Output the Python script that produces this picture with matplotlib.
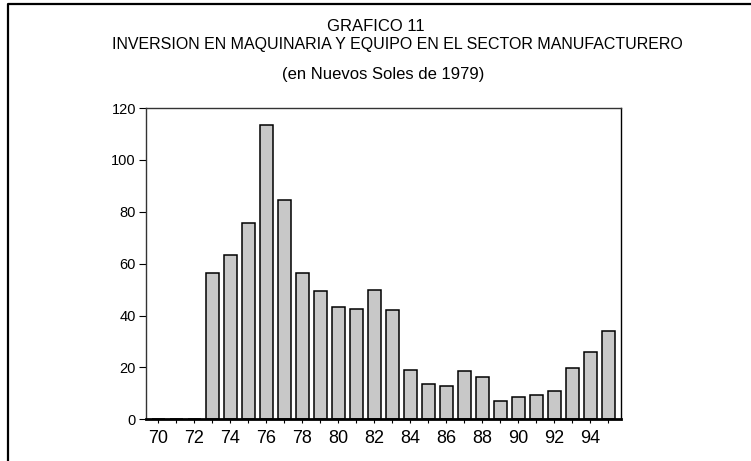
import matplotlib
matplotlib.use("Agg")
import matplotlib.pyplot as plt
from matplotlib.lines import Line2D

# ====================================================================
# DATA
# ====================================================================

years = list(range(70, 96))
inversion = [0, 0, 0, 56.5, 63.5, 75.7, 113.3, 84.4, 56.5, 49.3,
             43.2, 42.6, 49.8, 42.1, 18.9, 13.5, 12.8, 18.7, 16.3, 6.9,
             8.5, 9.2, 10.8, 19.8, 25.8, 33.9]
year_labels = [str(y) if y % 2 == 0 else "" for y in years]
y_ticks = [0, 20, 40, 60, 80, 100, 120]

title_top = "GRAFICO 11"
title_main = "INVERSION EN MAQUINARIA Y EQUIPO EN EL SECTOR MANUFACTURERO"
subtitle = "(en Nuevos Soles de 1979)"

# ====================================================================
# FIGURE
# ====================================================================

W, H = 751, 461
plt.rcParams['font.family'] = ['Liberation Sans', 'DejaVu Sans']

fig = plt.figure(figsize=(W / 100, H / 100), dpi=100)
ax = fig.add_axes([145.7 / W, 1 - 419.3 / H, (621 - 145.7) / W, (419.3 - 108) / H])

ax.bar(years, inversion, width=0.7, color="#c8c8c8", edgecolor="black",
       linewidth=1.1, zorder=2)

ax.set_xlim(69.3, 95.7)
ax.set_ylim(0, 120)
ax.set_xticks(years)
ax.set_xticklabels(year_labels, fontsize=13)
ax.set_yticks(y_ticks)
ax.set_yticklabels([str(v) for v in y_ticks], fontsize=10.5)

ax.tick_params(axis="x", direction="out", length=3, width=0.8, pad=5, colors="black")
ax.tick_params(axis="y", direction="out", length=5, width=0.8, pad=2, colors="black")

for side in ["left", "top", "right"]:
    ax.spines[side].set_linewidth(1.0)
    ax.spines[side].set_color("#333333")
ax.spines["right"].set_color("black")
ax.spines["bottom"].set_linewidth(2.0)
ax.spines["bottom"].set_color("black")

# titles, positioned in pixel terms
def px(x, y):
    return x / W, 1 - y / H

fig.text(*px(376, 31), title_top, fontsize=12, ha="center", va="baseline")
fig.text(*px(112, 49.5), title_main, fontsize=11.5, ha="left", va="baseline")
fig.text(*px(383, 78.7), subtitle, fontsize=12, ha="center", va="baseline")

# frame round the page (only left and top edges visible in the crop)
bx, by = px(8.3, 3.8)
fig.add_artist(Line2D([bx, bx, 1.0], [0.0, by, by], transform=fig.transFigure,
                      color="black", linewidth=1.6))

fig.savefig("out.png", dpi=100)
